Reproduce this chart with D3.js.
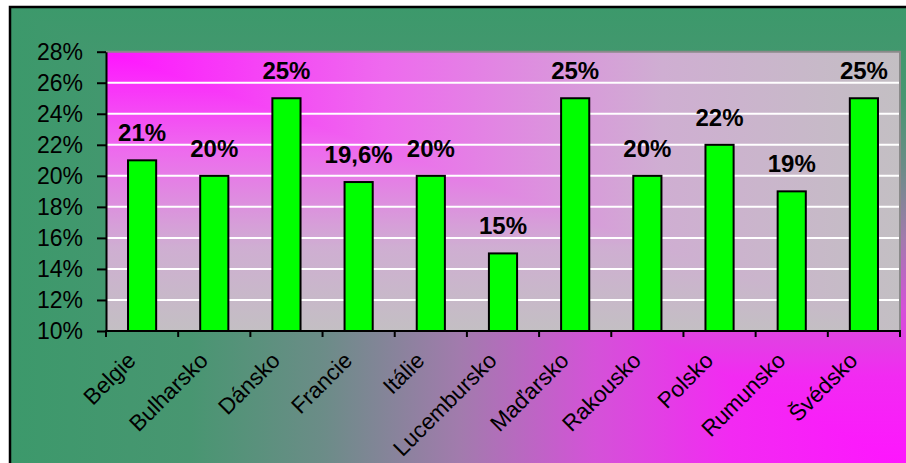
<!DOCTYPE html>
<html>
<head>
<meta charset="utf-8">
<script src="https://cdn.jsdelivr.net/npm/d3@7"></script>
<style>
  html, body { margin: 0; padding: 0; background: #ffffff; }
  svg { display: block; }
</style>
</head>
<body>
<svg id="chart" width="906" height="463"></svg>
<script>
// ---- data ----
const categories = ["Belgie", "Bulharsko", "Dánsko", "Francie", "Itálie", "Lucembursko",
                    "Maďarsko", "Rakousko", "Polsko", "Rumunsko", "Švédsko"];
const values = [21, 20, 25, 19.6, 20, 15, 25, 20, 22, 19, 25];
const valueLabels = ["21%", "20%", "25%", "19,6%", "20%", "15%", "25%", "20%", "22%", "19%", "25%"];
const yTicks = [10, 12, 14, 16, 18, 20, 22, 24, 26, 28];
const yDomain = [10, 28];

// ---- layout ----
const outer = { x: 10, y: 7, w: 900, h: 462 };
const plot = { left: 106, right: 900, top: 51.7, bottom: 331 };
const font = "'Liberation Sans', Arial, sans-serif";

const svg = d3.select("#chart");
const defs = svg.append("defs");

function linGrad(id, x1, y1, x2, y2, stops) {
  const g = defs.append("linearGradient").attr("id", id)
    .attr("gradientUnits", "userSpaceOnUse")
    .attr("x1", x1).attr("y1", y1).attr("x2", x2).attr("y2", y2);
  stops.forEach(s => g.append("stop").attr("offset", s[0]).attr("stop-color", s[1]));
}
const outerStops = [[0, "#3c996b"], [0.2, "#489671"], [0.35, "#6c8c88"], [0.5, "#a27bad"],
                    [0.65, "#d452d8"], [0.8, "#f22af2"], [1, "#ff14ff"]];
const ox0 = outer.x, oy0 = outer.y, ox1 = outer.x + outer.w, oy1 = outer.y + outer.h;
linGrad("ogH", ox0, 0, ox1, 0, outerStops);
linGrad("ogV", 0, oy0, 0, oy1, outerStops);

const plotStops = [[0, "#ff14ff"], [0.35, "#ee6aee"], [0.7, "#cfaed2"], [1, "#c3bfc3"]];
linGrad("pgH", plot.left, 0, plot.right, 0, plotStops);
linGrad("pgV", 0, plot.top, 0, plot.bottom, plotStops);

// outer chart area: full rect with one gradient, triangle overlay with the other
svg.append("rect")
  .attr("x", ox0).attr("y", oy0).attr("width", outer.w).attr("height", outer.h)
  .attr("fill", "url(#ogH)");
svg.append("polygon")
  .attr("points", [[ox0, oy0], [ox1, oy0], [ox1, oy1]].join(" "))
  .attr("fill", "url(#ogV)");
svg.append("rect")
  .attr("x", ox0).attr("y", oy0).attr("width", outer.w).attr("height", outer.h)
  .attr("fill", "none").attr("stroke", "#000").attr("stroke-width", 2.5);

// plot area
const pl = plot.left, pr = plot.right, pt = plot.top, pb = plot.bottom;
svg.append("rect")
  .attr("x", pl).attr("y", pt).attr("width", pr - pl).attr("height", pb - pt)
  .attr("fill", "url(#pgV)");
svg.append("polygon")
  .attr("points", [[pl, pt], [pr, pt], [pr, pb]].join(" "))
  .attr("fill", "url(#pgH)");

// scales
const x = d3.scaleBand().domain(categories).range([pl, pr])
  .paddingInner(0.61).paddingOuter(0.305);
const xEdge = d3.scaleLinear().domain([0, categories.length]).range([pl, pr]);
const y = d3.scaleLinear().domain(yDomain).range([pb, pt]);

// gridlines
svg.append("g").selectAll("line")
  .data(yTicks.filter(t => t > yDomain[0] && t < yDomain[1]))
  .join("line")
  .attr("x1", pl).attr("x2", pr)
  .attr("y1", d => y(d)).attr("y2", d => y(d))
  .attr("stroke", "#ffffff").attr("stroke-width", 2);

// plot border top/right
svg.append("path")
  .attr("d", `M${pl},${pt}H${pr}V${pb}`)
  .attr("fill", "none").attr("stroke", "#8a8a8a").attr("stroke-width", 2);

// bars
svg.append("g").selectAll("rect")
  .data(values)
  .join("rect")
  .attr("x", (d, i) => x(categories[i]))
  .attr("width", x.bandwidth())
  .attr("y", d => y(d))
  .attr("height", d => y(yDomain[0]) - y(d))
  .attr("fill", "#00ff00")
  .attr("stroke", "#000").attr("stroke-width", 2);

// value labels
svg.append("g").selectAll("text")
  .data(values)
  .join("text")
  .attr("x", (d, i) => x(categories[i]) + x.bandwidth() / 2)
  .attr("y", d => y(d) - 19)
  .attr("text-anchor", "middle")
  .attr("font-family", font).attr("font-weight", "bold").attr("font-size", 24)
  .attr("fill", "#000")
  .text((d, i) => valueLabels[i]);

// y axis
const yAxis = svg.append("g")
  .attr("transform", `translate(${pl},0)`)
  .call(d3.axisLeft(y).tickValues(yTicks).tickFormat(d => d + "%")
        .tickSize(9).tickSizeOuter(0).tickPadding(14));
yAxis.select(".domain").attr("stroke", "#000").attr("stroke-width", 2);
yAxis.selectAll(".tick line").attr("stroke", "#000").attr("stroke-width", 2);
yAxis.selectAll(".tick text")
  .attr("font-family", font).attr("font-size", 23).attr("fill", "#000");

// x axis line + boundary ticks
svg.append("line")
  .attr("x1", pl - 1).attr("x2", pr + 1).attr("y1", pb).attr("y2", pb)
  .attr("stroke", "#000").attr("stroke-width", 2);
svg.append("g").selectAll("line")
  .data(d3.range(categories.length + 1))
  .join("line")
  .attr("x1", d => xEdge(d)).attr("x2", d => xEdge(d))
  .attr("y1", pb).attr("y2", pb + 6)
  .attr("stroke", "#000").attr("stroke-width", 2);

// x labels rotated
svg.append("g").selectAll("text")
  .data(categories)
  .join("text")
  .attr("text-anchor", "end")
  .attr("transform", d => `translate(${x(d) + x.bandwidth() / 2 - 5},${pb + 31}) rotate(-45)`)
  .attr("font-family", font).attr("font-size", 22.5).attr("fill", "#000")
  .text(d => d);
</script>
</body>
</html>
